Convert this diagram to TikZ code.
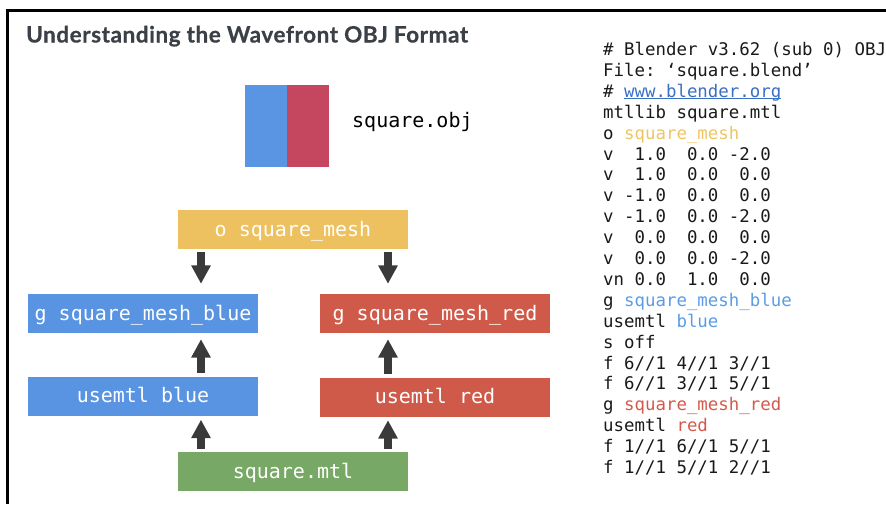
\documentclass[tikz,border=0pt]{standalone}
\usepackage{fontspec}
\setmonofont{DejaVu Sans Mono}
\newfontfamily\titlefont{Lato}[BoldFeatures={FakeBold=0.6, LetterSpace=2.5}]
\usetikzlibrary{arrows.meta}

\definecolor{titlegray}{HTML}{3B4046}
\definecolor{sqblue}{HTML}{5A95E3}
\definecolor{sqred}{HTML}{C4475F}
\definecolor{meshyellow}{HTML}{EDC15F}
\definecolor{meshblue}{HTML}{5894E2}
\definecolor{meshred}{HTML}{D05A4A}
\definecolor{mtlgreen}{HTML}{78A866}
\definecolor{arrowgray}{HTML}{3A3A3A}
\definecolor{linkblue}{HTML}{3A6FC5}
\definecolor{codeyellow}{HTML}{EFC462}
\definecolor{codeblue}{HTML}{5A9BE8}
\definecolor{codered}{HTML}{D4594B}

\tikzset{
  objbox/.style={minimum width=230pt, minimum height=39pt, inner sep=0pt, text=white,
    font=\ttfamily\fontsize{20}{24}\selectfont, text height=15pt, text depth=2pt},
  codeline/.style={anchor=base west, inner sep=0pt, text=black!90,
    font=\ttfamily\fontsize{17.4}{20.9}\selectfont},
  flowarrow/.style={line width=7.7pt, arrowgray, -{Triangle[width=18.5pt,length=18.5pt]}},
}

\begin{document}
\begin{tikzpicture}[x=1pt, y=-1pt]
    \useasboundingbox (0,0) rectangle (886,504);

    % Frame
    \draw[line width=2.8pt] (7.5,504) -- (7.5,10.5) -- (886,10.5);

    % Title
    \node[anchor=base west, inner sep=0pt, text=titlegray,
      font=\titlefont\bfseries\fontsize{22.5}{26}\selectfont] (title) at (26,42.5)
      {Understanding the Wavefront OBJ Format};

    % Square mesh
    \fill[sqblue] (244.5,85) rectangle (287,166.5);
    \fill[sqred] (287,85) rectangle (328.5,166.5);
    \node[anchor=base west, inner sep=0pt, font=\ttfamily\fontsize{20}{24}\selectfont]
      (objfile) at (352,127.5) {square.obj};

    % Object, groups and materials
    \node[objbox, fill=meshyellow] (ymesh) at (293,229.5) {o square\_mesh};
    \node[objbox, fill=meshblue] (gblue) at (143,313.5) {g square\_mesh\_blue};
    \node[objbox, fill=meshred] (gred) at (435,313.5) {g square\_mesh\_red};
    \node[objbox, fill=meshblue] (ublue) at (143,396) {usemtl blue};
    \node[objbox, fill=meshred] (ured) at (435,397) {usemtl red};
    \node[objbox, fill=mtlgreen] (smtl) at (293,471.5) {square.mtl};

    % Arrows
    \coordinate (lcol) at (201,0);
    \coordinate (rcol) at (388,0);
    \draw[flowarrow, shorten <=3pt, shorten >=10pt] (ymesh.south -| lcol) -- (gblue.north -| lcol);
    \draw[flowarrow, shorten <=3pt, shorten >=10pt] (ymesh.south -| rcol) -- (gred.north -| rcol);
    \draw[flowarrow, shorten <=3.5pt, shorten >=6pt] (ublue.north -| lcol) -- (gblue.south -| lcol);
    \draw[flowarrow, shorten <=3.5pt, shorten >=6pt] (ured.north -| rcol) -- (gred.south -| rcol);
    \draw[flowarrow, shorten <=3pt, shorten >=4pt] (smtl.north -| lcol) -- (ublue.south -| lcol);
    \draw[flowarrow, shorten <=3pt, shorten >=3.5pt] (smtl.north -| rcol) -- (ured.south -| rcol);

    % OBJ listing
    \foreach \txt [count=\i] in {
      {\# Blender v3.62 (sub 0) OBJ},
      {File: ‘square.blend’},
      {\# \textcolor{linkblue}{\rlap{\rule[-2pt]{157pt}{1.1pt}}www.blender.org}},
      {mtllib square.mtl},
      {o \textcolor{codeyellow}{square\_mesh}},
      {v~~1.0~~0.0 -2.0},
      {v~~1.0~~0.0~~0.0},
      {v -1.0~~0.0~~0.0},
      {v -1.0~~0.0 -2.0},
      {v~~0.0~~0.0~~0.0},
      {v~~0.0~~0.0 -2.0},
      {vn 0.0~~1.0~~0.0},
      {g \textcolor{codeblue}{square\_mesh\_blue}},
      {usemtl \textcolor{codeblue}{blue}},
      {s off},
      {f 6//1 4//1 3//1},
      {f 6//1 3//1 5//1},
      {g \textcolor{codered}{square\_mesh\_red}},
      {usemtl \textcolor{codered}{red}},
      {f 1//1 6//1 5//1},
      {f 1//1 5//1 2//1}}
      \node[codeline] (l\i) at (603,{55.5+20.9*(\i-1)}) {\txt};
\end{tikzpicture}
\end{document}
